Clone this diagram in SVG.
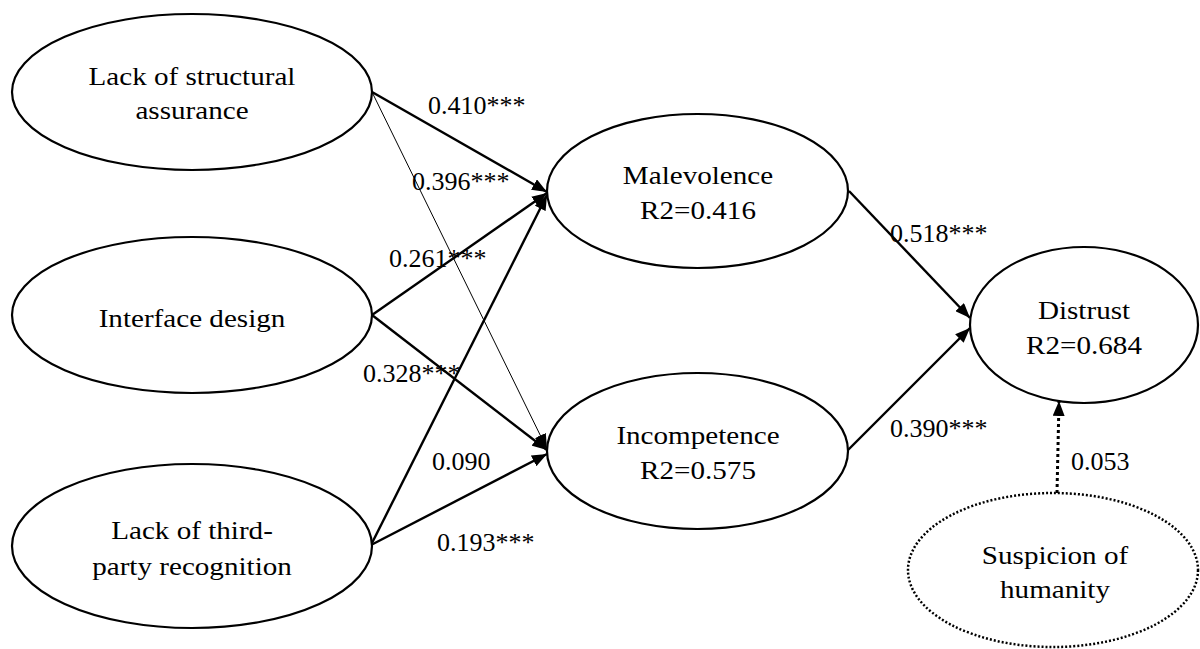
<svg xmlns="http://www.w3.org/2000/svg" width="1200" height="649" viewBox="0 0 1200 649">
<style>
  .node { fill: #fff; stroke: #000; stroke-width: 2.2; }
  .dotted { fill: #fff; stroke: #000; stroke-width: 2.5; stroke-dasharray: 2 2; }
  .t { font-family: "Liberation Serif", "Times New Roman", serif; font-size: 26px; fill: #000; }
  .n { text-anchor: middle; }
  .c { stroke: #000; stroke-width: 2.4; fill: none; marker-end: url(#ah); }
  .thin { stroke: #000; stroke-width: 1; fill: none; marker-end: url(#ah); }
  .dl { stroke: #000; stroke-width: 3; stroke-dasharray: 3 3; fill: none; marker-end: url(#ah); }
</style>
<defs>
  <marker id="ah" markerUnits="userSpaceOnUse" viewBox="0 0 15 12" markerWidth="15" markerHeight="12" refX="15" refY="6" orient="auto">
    <path d="M0,0 L15,6 L0,12 z" fill="#000"/>
  </marker>
</defs>
<rect width="1200" height="649" fill="#fff"/>

<g id="connectors">
  <line class="thin" x1="372" y1="92" x2="547" y2="449"/>
  <line class="c" x1="372" y1="92" x2="547" y2="192"/>
  <line class="c" x1="372" y1="315" x2="547" y2="193"/>
  <line class="c" x1="372" y1="315" x2="547" y2="450"/>
  <line class="c" x1="371" y1="545" x2="547" y2="195"/>
  <line class="c" x1="371" y1="545" x2="547" y2="454"/>
  <line class="c" x1="849" y1="191" x2="970" y2="318"/>
  <line class="c" x1="848" y1="450" x2="970" y2="328"/>
  <line class="dl" x1="1057" y1="493" x2="1059" y2="401"/>
  <g class="t">
    <text x="428" y="114">0.410***</text>
    <text x="412" y="190">0.396***</text>
    <text x="389" y="267">0.261***</text>
    <text x="363" y="382">0.328***</text>
    <text x="432" y="470">0.090</text>
    <text x="437" y="551">0.193***</text>
    <text x="890" y="242">0.518***</text>
    <text x="890" y="437">0.390***</text>
    <text x="1071" y="470">0.053</text>
  </g>
</g>

<g id="lack-structural">
  <ellipse class="node" cx="192" cy="92" rx="180" ry="78"/>
  <text class="t n" transform="translate(192 0) scale(1.12 1)"><tspan x="0" y="85">Lack of structural</tspan><tspan x="0" y="119">assurance</tspan></text>
</g>
<g id="interface-design">
  <ellipse class="node" cx="192" cy="315" rx="180" ry="78"/>
  <text class="t n" transform="translate(192 0) scale(1.12 1)"><tspan x="0" y="327">Interface design</tspan></text>
</g>
<g id="lack-third-party">
  <ellipse class="node" cx="192" cy="546" rx="180" ry="82"/>
  <text class="t n" transform="translate(192 0) scale(1.12 1)"><tspan x="0" y="539">Lack of third-</tspan><tspan x="0" y="575">party recognition</tspan></text>
</g>
<g id="malevolence">
  <ellipse class="node" cx="697.5" cy="191" rx="150.5" ry="77"/>
  <text class="t n" transform="translate(698 0) scale(1.12 1)"><tspan x="0" y="184">Malevolence</tspan><tspan x="0" y="219">R2=0.416</tspan></text>
</g>
<g id="incompetence">
  <ellipse class="node" cx="697.5" cy="451" rx="150.5" ry="78"/>
  <text class="t n" transform="translate(698 0) scale(1.12 1)"><tspan x="0" y="444">Incompetence</tspan><tspan x="0" y="479">R2=0.575</tspan></text>
</g>
<g id="distrust">
  <ellipse class="node" cx="1084" cy="325" rx="114" ry="78"/>
  <text class="t n" transform="translate(1084 0) scale(1.12 1)"><tspan x="0" y="319">Distrust</tspan><tspan x="0" y="354">R2=0.684</tspan></text>
</g>
<g id="suspicion">
  <ellipse class="dotted" cx="1053" cy="570" rx="145" ry="77"/>
  <text class="t n" transform="translate(1055 0) scale(1.12 1)"><tspan x="0" y="564">Suspicion of</tspan><tspan x="0" y="598">humanity</tspan></text>
</g>
</svg>
